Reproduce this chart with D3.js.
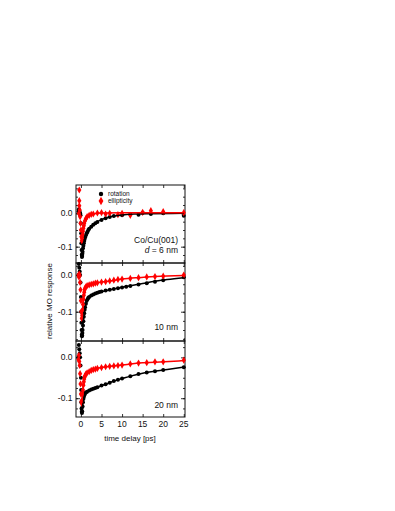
<!DOCTYPE html>
<html>
<head>
<meta charset="utf-8">
<script src="https://cdn.jsdelivr.net/npm/d3@7"></script>
<style>
  body { margin:0; background:#fff; }
  svg { font-family: "Liberation Sans", Arial, sans-serif; }
</style>
</head>
<body>
<script>
// values: [time delay ps, relative MO response]
var rot6 = [[-0.6,0.005],[-0.5,0.012],[-0.4,0.008],[-0.3,0.003],[-0.2,0.0],[-0.1,-0.006],[0.0,-0.03],[0.05,-0.06],[0.1,-0.09],[0.15,-0.11],[0.2,-0.124],[0.25,-0.131],[0.3,-0.128],[0.35,-0.121],[0.4,-0.115],[0.5,-0.105],[0.6,-0.097],[0.7,-0.09],[0.8,-0.083],[0.9,-0.077],[1.0,-0.072],[1.2,-0.066],[1.4,-0.06],[1.6,-0.055],[1.8,-0.05],[2.0,-0.046],[2.5,-0.04],[3,-0.034],[3.5,-0.03],[4,-0.026],[5,-0.02],[6,-0.015],[7,-0.011],[8,-0.008],[10,-0.006],[12,-0.003],[14,-0.004],[15,0.002],[17,-0.002],[20,0.0],[25,-0.007]];
var ell6 = [[-0.5,0.0],[-0.4,0.07],[-0.4,0.038],[-0.4,0.023],[-0.3,0.01],[-0.2,-0.01],[-0.1,-0.03],[0.0,-0.05],[0.1,-0.07],[0.2,-0.082],[0.3,-0.075],[0.4,-0.064],[0.5,-0.054],[0.6,-0.045],[0.7,-0.037],[0.8,-0.03],[1.0,-0.022],[1.2,-0.016],[1.5,-0.01],[2,-0.006],[2.5,-0.003],[3,-0.002],[4,0.001],[5,0.002],[6,-0.002],[7,0.0],[9,-0.004],[10,0.0],[12,-0.006],[15,0.003],[17,0.008],[20,0.005],[25,0.002]];
var rotFit6 = [[0.25,-0.13],[0.4,-0.112],[0.6,-0.095],[0.8,-0.082],[1,-0.072],[1.5,-0.057],[2,-0.046],[3,-0.033],[4,-0.025],[5,-0.019],[6,-0.014],[8,-0.008],[10,-0.005],[13,-0.002],[17,-0.001],[25,0.0]];
var ellFit6 = [[0.2,-0.08],[0.4,-0.062],[0.6,-0.046],[0.8,-0.034],[1,-0.025],[1.5,-0.013],[2,-0.007],[3,-0.002],[5,0.001],[10,0.002],[25,0.002]];

var rot10 = [[-0.6,0.0],[-0.5,0.03],[-0.4,0.02],[-0.3,0.01],[-0.2,0.0],[-0.1,-0.02],[0.0,-0.06],[0.05,-0.1],[0.1,-0.13],[0.15,-0.15],[0.2,-0.163],[0.25,-0.167],[0.3,-0.165],[0.35,-0.158],[0.4,-0.15],[0.5,-0.138],[0.6,-0.126],[0.7,-0.114],[0.8,-0.104],[0.9,-0.095],[1.0,-0.088],[1.2,-0.078],[1.4,-0.07],[1.6,-0.066],[1.8,-0.062],[2.0,-0.06],[2.5,-0.056],[3,-0.053],[3.5,-0.05],[4,-0.048],[4.5,-0.046],[5,-0.045],[6,-0.042],[7,-0.04],[8,-0.038],[9,-0.036],[10,-0.034],[11,-0.032],[12,-0.03],[14,-0.026],[16,-0.022],[18,-0.018],[20,-0.014],[25,-0.006]];
var ell10 = [[-0.6,0.0],[-0.5,-0.005],[-0.4,0.003],[-0.3,-0.002],[-0.2,-0.02],[-0.1,-0.04],[0.0,-0.07],[0.1,-0.1],[0.2,-0.118],[0.3,-0.11],[0.4,-0.095],[0.5,-0.08],[0.6,-0.066],[0.7,-0.055],[0.8,-0.047],[0.9,-0.04],[1.0,-0.036],[1.2,-0.032],[1.5,-0.029],[2,-0.027],[2.5,-0.025],[3,-0.024],[3.5,-0.022],[4,-0.021],[5,-0.019],[6,-0.018],[7,-0.016],[8,-0.014],[9,-0.012],[10,-0.011],[12,-0.009],[14,-0.007],[16,-0.005],[18,-0.004],[20,-0.003],[25,0.0]];
var rotFit10 = [[0.25,-0.165],[0.4,-0.148],[0.6,-0.124],[0.8,-0.104],[1,-0.09],[1.5,-0.071],[2,-0.062],[3,-0.054],[4,-0.049],[6,-0.043],[8,-0.038],[10,-0.033],[12,-0.029],[15,-0.023],[18,-0.017],[21,-0.012],[25,-0.007]];
var ellFit10 = [[0.2,-0.116],[0.4,-0.094],[0.6,-0.066],[0.8,-0.047],[1,-0.037],[1.5,-0.03],[2,-0.027],[3,-0.024],[5,-0.019],[7,-0.016],[10,-0.011],[14,-0.007],[18,-0.004],[25,-0.001]];

var rot20 = [[-0.6,0.0],[-0.5,0.03],[-0.4,0.02],[-0.3,0.01],[-0.2,0.0],[-0.1,-0.02],[0.0,-0.05],[0.05,-0.08],[0.1,-0.11],[0.15,-0.125],[0.2,-0.133],[0.25,-0.136],[0.3,-0.132],[0.4,-0.12],[0.5,-0.11],[0.6,-0.102],[0.7,-0.097],[0.8,-0.093],[0.9,-0.09],[1.0,-0.088],[1.2,-0.086],[1.5,-0.084],[2,-0.081],[2.5,-0.079],[3,-0.077],[3.5,-0.075],[4,-0.073],[5,-0.069],[6,-0.066],[7,-0.062],[8,-0.058],[9,-0.055],[10,-0.052],[12,-0.046],[14,-0.041],[16,-0.037],[18,-0.034],[20,-0.031],[25,-0.024]];
var ell20 = [[-0.6,-0.005],[-0.5,0.005],[-0.4,-0.01],[-0.3,-0.02],[-0.2,-0.04],[-0.1,-0.065],[0.0,-0.09],[0.1,-0.108],[0.2,-0.113],[0.3,-0.105],[0.4,-0.092],[0.5,-0.08],[0.6,-0.068],[0.7,-0.06],[0.8,-0.053],[0.9,-0.048],[1.0,-0.045],[1.2,-0.041],[1.5,-0.038],[2,-0.035],[2.5,-0.032],[3,-0.03],[3.5,-0.029],[4,-0.027],[5,-0.025],[6,-0.023],[7,-0.022],[8,-0.021],[9,-0.02],[10,-0.019],[12,-0.016],[14,-0.014],[16,-0.013],[18,-0.011],[20,-0.011],[25,-0.007]];
var rotFit20 = [[0.25,-0.135],[0.4,-0.12],[0.6,-0.103],[0.8,-0.094],[1,-0.089],[1.5,-0.084],[2,-0.081],[3,-0.077],[4,-0.073],[6,-0.066],[8,-0.058],[10,-0.052],[12,-0.046],[15,-0.039],[18,-0.034],[21,-0.03],[25,-0.024]];
var ellFit20 = [[0.2,-0.112],[0.4,-0.092],[0.6,-0.068],[0.8,-0.053],[1,-0.045],[1.5,-0.038],[2,-0.035],[3,-0.03],[5,-0.025],[7,-0.022],[10,-0.019],[14,-0.014],[18,-0.012],[25,-0.008]];

var xTicks = [0,5,10,15,20,25];
var yTicks = [0.0,-0.1];
var yDomains = [[-0.149,0.085],[-0.18,0.033],[-0.146,0.04]];
var labels = ['', '10 nm', '20 nm'];

var svg = d3.select('body').append('svg').attr('width',395).attr('height',511);

var left = 76, right = 185;
var bands = [[185,263],[263,341],[341,417]];
var x = d3.scaleLinear().domain([-1.2,25.3]).range([left,right]);

var panels = [
  {rot:rot6, ell:ell6, rotFit:rotFit6, ellFit:ellFit6},
  {rot:rot10, ell:ell10, rotFit:rotFit10, ellFit:ellFit10},
  {rot:rot20, ell:ell20, rotFit:rotFit20, ellFit:ellFit20}
];

var diamond = d3.symbol().type(d3.symbolDiamond).size(15);

panels.forEach(function(p,i){
  var top = bands[i][0], bot = bands[i][1];
  var y = d3.scaleLinear().domain(yDomains[i]).range([bot,top]);
  var g = svg.append('g');

  // inward ticks on all four sides
  var minorY = d3.range(-0.175,0.1,0.025).filter(function(v){return v>yDomains[i][0] && v<yDomains[i][1];});
  g.append('g').attr('transform','translate('+left+',0)')
    .call(d3.axisRight(y).tickValues(minorY).tickSize(2).tickFormat(''));
  g.append('g').attr('transform','translate('+right+',0)')
    .call(d3.axisLeft(y).tickValues(minorY).tickSize(2).tickFormat(''));
  g.append('g').attr('transform','translate('+left+',0)')
    .call(d3.axisRight(y).tickValues(yTicks).tickSize(4).tickFormat(''));
  g.append('g').attr('transform','translate('+right+',0)')
    .call(d3.axisLeft(y).tickValues(yTicks).tickSize(4).tickFormat(''));
  g.append('g').attr('transform','translate(0,'+bot+')')
    .call(d3.axisTop(x).tickValues(xTicks).tickSize(3).tickFormat(''));
  g.append('g').attr('transform','translate(0,'+top+')')
    .call(d3.axisBottom(x).tickValues(xTicks).tickSize(3).tickFormat(''));
  g.selectAll('.domain').remove();
  g.selectAll('.tick line').attr('stroke','#000').attr('stroke-width',0.8);

  g.selectAll('.ylab').data(yTicks).enter().append('text')
    .attr('x',left-3.5).attr('y',function(d){return y(d)+3;})
    .attr('text-anchor','end').attr('font-size',8.5).attr('fill','#111')
    .text(function(d){return d3.format('.1f')(d).replace('−','-');});

  g.append('rect').attr('x',left).attr('y',top).attr('width',right-left).attr('height',bot-top)
    .attr('fill','none').attr('stroke','#111').attr('stroke-width',1);

  var line = d3.line().x(function(d){return x(d[0]);}).y(function(d){return y(d[1]);}).curve(d3.curveMonotoneX);

  g.selectAll('.rp').data(p.rot).enter().append('circle')
    .attr('cx',function(d){return x(d[0]);}).attr('cy',function(d){return y(d[1]);})
    .attr('r',2).attr('fill','#000');
  g.selectAll('.ep').data(p.ell).enter().append('path')
    .attr('d',diamond).attr('fill','#f00')
    .attr('transform',function(d){return 'translate('+x(d[0])+','+y(d[1])+')';});

  g.append('path').datum(p.rotFit).attr('d',line).attr('fill','none').attr('stroke','#000').attr('stroke-width',1.5);
  g.append('path').datum(p.ellFit).attr('d',line).attr('fill','none').attr('stroke','#f00').attr('stroke-width',1.5);

  if (labels[i]) {
    g.append('text').attr('x',178).attr('y',i==1?330:408).attr('text-anchor','end')
      .attr('font-size',8.5).attr('fill','#111').text(labels[i]);
  }
});

// panel 1 annotation and legend
svg.append('text').attr('x',178).attr('y',243).attr('text-anchor','end')
  .attr('font-size',8.5).attr('fill','#111').text('Co/Cu(001)');
var dl = svg.append('text').attr('x',178).attr('y',252.5).attr('text-anchor','end')
  .attr('font-size',8.5).attr('fill','#111');
dl.append('tspan').attr('font-style','italic').text('d');
dl.append('tspan').text(' = 6 nm');

var legend = [{name:'rotation', color:'#000'},{name:'ellipticity', color:'#f00'}];
legend.forEach(function(l,k){
  var ly = 194 + k*7;
  if (k==0) svg.append('circle').attr('cx',101).attr('cy',ly).attr('r',2.2).attr('fill',l.color);
  else svg.append('path').attr('d',d3.symbol().type(d3.symbolDiamond).size(20)).attr('fill',l.color)
    .attr('transform','translate(101,'+ly+')');
  svg.append('text').attr('x',108).attr('y',ly+2).attr('font-size',6.5).attr('fill','#111').text(l.name);
});

// x tick labels + axis titles
svg.selectAll('.xlab').data(xTicks).enter().append('text')
  .attr('x',function(d){return x(d);}).attr('y',427).attr('text-anchor','middle')
  .attr('font-size',8.5).attr('fill','#111').text(function(d){return d;});
svg.append('text').attr('x',130).attr('y',441).attr('text-anchor','middle')
  .attr('font-size',8).attr('fill','#111').text('time delay [ps]');
svg.append('text').attr('transform','translate(52,301) rotate(-90)').attr('text-anchor','middle')
  .attr('font-size',8).attr('fill','#111').text('relative MO response');
</script>
</body>
</html>
